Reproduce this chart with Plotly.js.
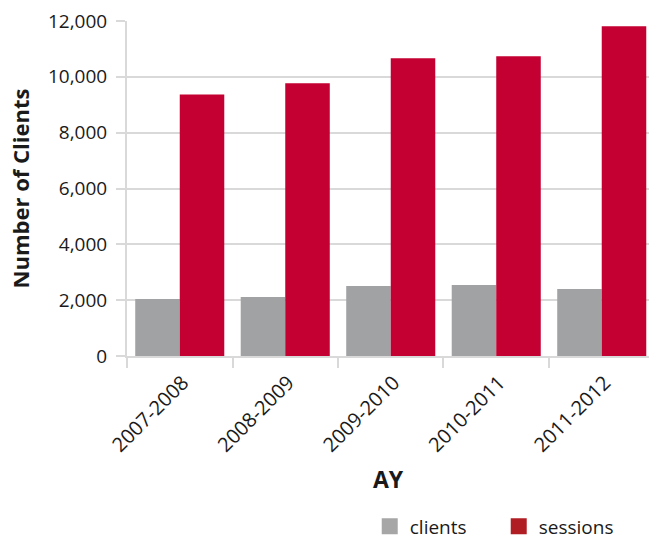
<!DOCTYPE html>
<html>
<head>
<meta charset="utf-8">
<script src="https://cdn.plot.ly/plotly-3.0.1.min.js"></script>
<style>
  html, body { margin: 0; padding: 0; background: #ffffff; }
  #chart { width: 649px; height: 540px; }
</style>
</head>
<body>
<div id="chart"></div>
<script>
// Academic years on the category axis
var years = ["2007-2008", "2008-2009", "2009-2010", "2010-2011", "2011-2012"];

// Counts per academic year
var clients = [2040, 2110, 2505, 2540, 2400];
var sessions = [9370, 9770, 10665, 10735, 11810];

var yTicks = [0, 2000, 4000, 6000, 8000, 10000, 12000];

var FONT = "'Open Sans', 'Noto Sans', sans-serif";
var GRID = "#d9d9d9";

var traces = [
  {
    type: "bar", name: "clients", x: years, y: clients,
    marker: { color: "#a1a2a4" }, showlegend: false, hoverinfo: "x+y"
  },
  {
    type: "bar", name: "sessions", x: years, y: sessions,
    marker: { color: "#c30031" }, showlegend: false, hoverinfo: "x+y"
  },
  // legend swatches
  {
    type: "scatter", mode: "markers", name: "clients", x: [null], y: [null],
    marker: { symbol: "square", size: 16, color: "#a6a6a6" }, showlegend: true
  },
  {
    type: "scatter", mode: "markers", name: "sessions", x: [null], y: [null],
    marker: { symbol: "square", size: 16, color: "#b01e24" }, showlegend: true
  }
];

var layout = {
  width: 649, height: 540,
  margin: { l: 127, r: 0, t: 21, b: 184 },
  paper_bgcolor: "#ffffff", plot_bgcolor: "#ffffff",
  font: { family: FONT, size: 19, color: "#1a1a1a" },
  barmode: "group", bargap: 0.156, bargroupgap: 0,
  showlegend: true,
  legend: {
    orientation: "h", x: 0.465, xanchor: "left",
    yref: "container", y: 0.025, yanchor: "middle",
    entrywidth: 84, entrywidthmode: "pixels",
    font: { family: FONT, size: 19, color: "#1a1a1a" }
  },
  xaxis: {
    type: "category", range: [-0.5, 4.448], automargin: false,
    tickangle: -45, tickson: "boundaries", ticks: "outside", ticklen: 10,
    tickwidth: 2, tickcolor: GRID, ticklabelstandoff: 5, ticklabelshift: 3,
    showline: true, linecolor: GRID, linewidth: 2,
    showgrid: false, zeroline: false,
    tickfont: { family: FONT, size: 20, color: "#1a1a1a" },
    title: { text: "<b>AY</b>", standoff: 15, font: { family: FONT, size: 23, color: "#1a1a1a" } }
  },
  yaxis: {
    range: [0, 12000], tickvals: yTicks, tickformat: ",d", automargin: false,
    ticks: "outside", ticklen: 9, tickwidth: 2, tickcolor: GRID, ticklabelstandoff: 5,
    showline: true, linecolor: GRID, linewidth: 2,
    showgrid: true, gridcolor: GRID, gridwidth: 2, zeroline: false,
    tickfont: { family: FONT, size: 19, color: "#1a1a1a" },
    title: { text: "<b>Number of Clients</b>", standoff: 12, font: { family: FONT, size: 22, color: "#1a1a1a" } }
  }
};

Plotly.newPlot("chart", traces, layout, { displayModeBar: false, staticPlot: true });
</script>
</body>
</html>
